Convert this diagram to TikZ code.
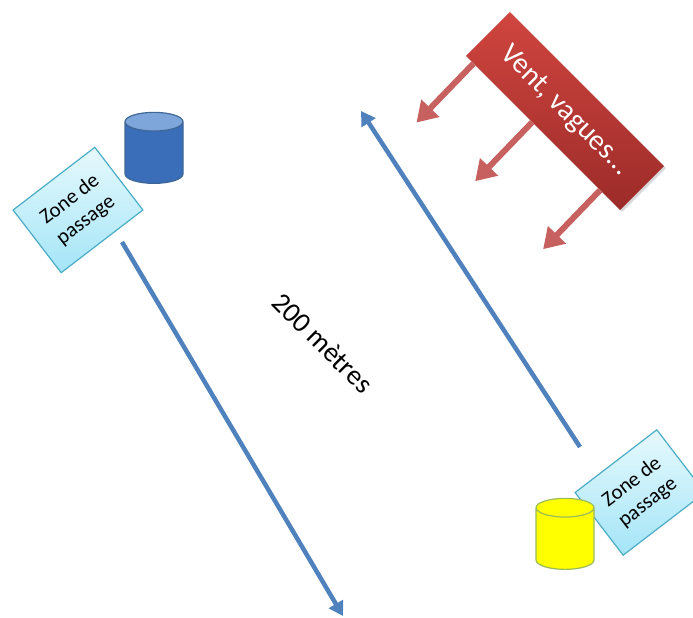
\documentclass[tikz,border=0pt]{standalone}
\usepackage{fontspec}
\setmainfont{Carlito}
\usetikzlibrary{arrows.meta,shapes.geometric,calc,shadows}

\definecolor{seablue}{HTML}{4F81BD}
\definecolor{cardedge}{HTML}{4BACC6}
\definecolor{cardtop}{HTML}{E6F9FD}
\definecolor{cardbot}{HTML}{A4E5F7}
\definecolor{windred}{HTML}{C0504D}
\definecolor{windtop}{HTML}{D0453F}
\definecolor{windbot}{HTML}{9C2B29}
\definecolor{tankblue}{HTML}{3A6EB9}
\definecolor{tanktop}{HTML}{7FA6DA}
\definecolor{tankyellow}{HTML}{FFFF00}
\definecolor{tankedge}{HTML}{9BBB59}

\begin{document}
\begin{tikzpicture}[x=1pt,y=1pt,
  zone/.style={draw=cardedge, line width=1.2pt, top color=cardtop, bottom color=cardbot,
    rotate=37.5, minimum width=103pt, minimum height=79pt, inner sep=0pt,
    align=center, font=\fontsize{21}{26}\selectfont},
  tank/.style={cylinder, shape border rotate=90, aspect=2.8, minimum width=58pt,
    minimum height=71pt, cylinder uses custom fill, line width=1.2pt},
  route/.style={draw=seablue, line width=4.5pt, -{Triangle[width=16pt,length=14pt]}},
  wind/.style={draw=windred!90!white, line width=6pt, -{Triangle[width=24pt,length=20pt]}}]
\useasboundingbox (0,0) rectangle (693,-618);
\clip (0,0) rectangle (693,-618);

% cartes et bidons
\node[zone] (zl) at (78,-210) {Zone de\\passage};
\node[zone] (zr) at (640,-492.5) {Zone de\\passage};
\node[tank, draw=seablue!80!black, cylinder body fill=tankblue, cylinder end fill=tanktop] (bl) at (154,-155) {};
\node[tank, draw=tankedge, cylinder body fill=tankyellow, cylinder end fill=tankyellow] (by) at (565,-541) {};

% trajets
\coordinate (l1) at (122,-242);
\coordinate (l2) at (343,-616);
\coordinate (r1) at (580,-447);
\coordinate (r2) at (361,-111);
\draw[route] (l1) -- (l2);
\draw[route] (r1) -- (r2);
\node[rotate=-45, font=\fontsize{28}{30}\selectfont] (dist) at (323,-343) {200 mètres};

% vent
\node[rotate=-45, minimum width=218pt, minimum height=62pt, inner sep=0pt,
  top color=windtop, bottom color=windbot, text=white,
  drop shadow={opacity=0.3, shadow xshift=2pt, shadow yshift=-2pt},
  font=\fontsize{29}{30}\selectfont] (vent) at (565,-111) {Vent, vagues...};
\foreach \f/\n in {0.05/1, 0.43/2, 0.87/3}
  \coordinate (w\n) at ($(vent.south west)!\f!(vent.south east)$);
\draw[wind] (w1) -- ++(-134:82);
\draw[wind] (w2) -- ++(-134:82);
\draw[wind] (w3) -- ++(-134:82);
\end{tikzpicture}
\end{document}
